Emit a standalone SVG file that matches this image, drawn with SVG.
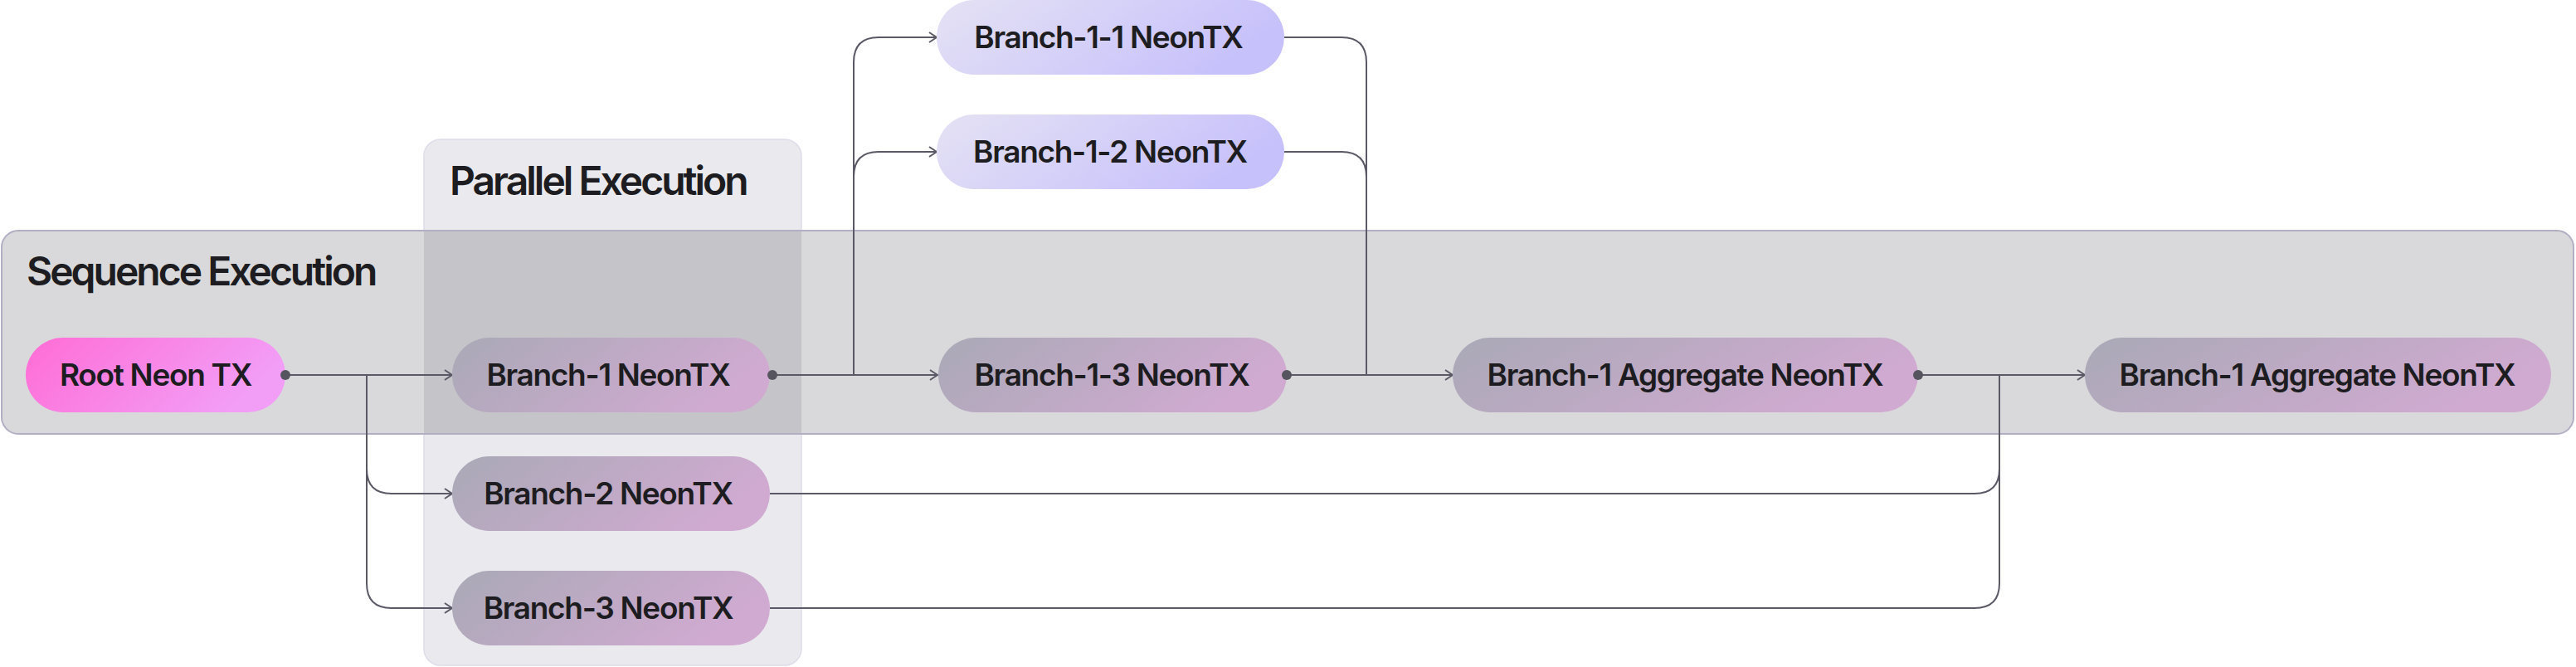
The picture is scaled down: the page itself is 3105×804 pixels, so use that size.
<svg xmlns="http://www.w3.org/2000/svg" width="3105" height="804" viewBox="0 0 3105 804">
  <defs>
    <linearGradient id="gNode" x1="0" y1="0" x2="1" y2="0.3">
      <stop offset="0" stop-color="#a9a9b6"/>
      <stop offset="1" stop-color="#d0aad1"/>
    </linearGradient>
    <linearGradient id="gRoot" x1="0" y1="0" x2="1" y2="0.3">
      <stop offset="0" stop-color="#ff6cd5"/>
      <stop offset="1" stop-color="#f29ef7"/>
    </linearGradient>
    <linearGradient id="gLav" x1="0" y1="0" x2="1" y2="0.3">
      <stop offset="0" stop-color="#e5e2f4"/>
      <stop offset="1" stop-color="#c7c1fb"/>
    </linearGradient>
    <marker id="arr" markerUnits="userSpaceOnUse" markerWidth="14" markerHeight="16" refX="10" refY="7" orient="auto">
      <path d="M1,1 L10,7 L1,13" fill="none" stroke="#5b5965" stroke-width="2"/>
    </marker>
  </defs>
  <style>
    .title { font-family: Inter, "Liberation Sans", sans-serif; font-weight: 600; font-size: 48px; fill: #1d1d21; letter-spacing: -3px; }
    .lbl { font-family: Inter, "Liberation Sans", sans-serif; font-weight: 600; font-size: 37px; fill: #1d1d21; letter-spacing: -1.3px; text-anchor: middle; }
    .node { fill: url(#gNode); }
    .conn { fill: none; stroke: #5b5965; stroke-width: 2; }
    .dot { fill: #56545e; }
  </style>
  <rect width="3105" height="804" fill="#ffffff"/>

  <g id="parallel-execution">
    <rect x="511" y="168" width="455" height="634" rx="20" fill="#e9e9ee" stroke="#dedde9" stroke-width="1.5"/>
    <text class="title" x="542" y="235">Parallel Execution</text>
  </g>
  <g id="sequence-execution">
    <rect x="2" y="278" width="3100" height="245" rx="20" fill="#d9d9db" stroke="#b1afc4" stroke-width="2"/>
    <rect x="511" y="279" width="455" height="243" fill="#c5c4c9"/>
    <text class="title" x="32" y="344">Sequence Execution</text>
  </g>

  <g id="connectors">
    <path class="conn" d="M344,452 H545" marker-end="url(#arr)"/>
    <path class="conn" d="M442,452 V565 Q442,595 472,595 H545" marker-end="url(#arr)"/>
    <path class="conn" d="M442,452 V703 Q442,733 472,733 H545" marker-end="url(#arr)"/>
    <path class="conn" d="M931,452 H1130" marker-end="url(#arr)"/>
    <path class="conn" d="M1029,452 V75 Q1029,45 1059,45 H1129" marker-end="url(#arr)"/>
    <path class="conn" d="M1029,452 V213 Q1029,183 1059,183 H1129" marker-end="url(#arr)"/>
    <path class="conn" d="M1548,45 H1617 Q1647,45 1647,75 V452"/>
    <path class="conn" d="M1548,183 H1617 Q1647,183 1647,213 V452"/>
    <path class="conn" d="M1551,452 H1751" marker-end="url(#arr)"/>
    <path class="conn" d="M2312,452 H2513" marker-end="url(#arr)"/>
    <path class="conn" d="M928,595 H2380 Q2410,595 2410,565 V452"/>
    <path class="conn" d="M928,733 H2380 Q2410,733 2410,703 V452"/>
  </g>

  <g id="root">
    <rect x="31" y="407" width="313" height="90" rx="45" fill="url(#gRoot)"/>
    <text class="lbl" x="187.5" y="465">Root Neon TX</text>
    <circle class="dot" cx="344" cy="452" r="6"/>
  </g>
  <g id="branch-1">
    <rect class="node" x="545" y="407" width="383" height="90" rx="45"/>
    <text class="lbl" x="733" y="465">Branch-1 NeonTX</text>
    <circle class="dot" cx="931" cy="452" r="6"/>
  </g>
  <g id="branch-2">
    <rect class="node" x="545" y="550" width="383" height="90" rx="45"/>
    <text class="lbl" x="733" y="608">Branch-2 NeonTX</text>
  </g>
  <g id="branch-3">
    <rect class="node" x="545" y="688" width="383" height="90" rx="45"/>
    <text class="lbl" x="733" y="746">Branch-3 NeonTX</text>
  </g>
  <g id="branch-1-1">
    <rect x="1129" y="0" width="419" height="90" rx="45" fill="url(#gLav)"/>
    <text class="lbl" x="1336" y="58">Branch-1-1 NeonTX</text>
  </g>
  <g id="branch-1-2">
    <rect x="1129" y="138" width="419" height="90" rx="45" fill="url(#gLav)"/>
    <text class="lbl" x="1338" y="196">Branch-1-2 NeonTX</text>
  </g>
  <g id="branch-1-3">
    <rect class="node" x="1131" y="407" width="420" height="90" rx="45"/>
    <text class="lbl" x="1340" y="465">Branch-1-3 NeonTX</text>
    <circle class="dot" cx="1551" cy="452" r="6"/>
  </g>
  <g id="branch-1-aggregate">
    <rect class="node" x="1751" y="407" width="561" height="90" rx="45"/>
    <text class="lbl" x="2031" y="465">Branch-1 Aggregate NeonTX</text>
    <circle class="dot" cx="2312" cy="452" r="6"/>
  </g>
  <g id="branch-1-aggregate-2">
    <rect class="node" x="2513" y="407" width="562" height="90" rx="45"/>
    <text class="lbl" x="2793" y="465">Branch-1 Aggregate NeonTX</text>
  </g>
</svg>
